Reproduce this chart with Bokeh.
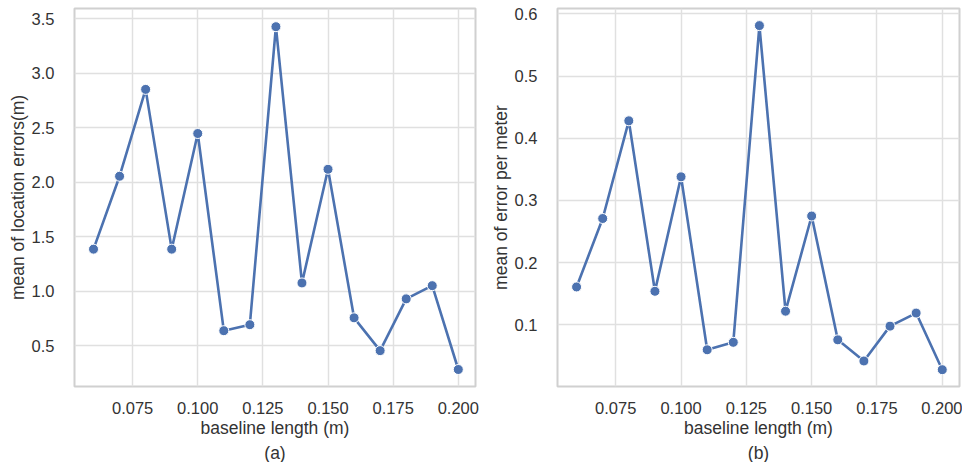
from bokeh.plotting import figure
from bokeh.layouts import row
from bokeh.models import FixedTicker, PrintfTickFormatter, Range1d, Title, ColumnDataSource
from bokeh.embed import file_html
from bokeh.resources import INLINE

baseline = [0.06, 0.07, 0.08, 0.09, 0.10, 0.11, 0.12, 0.13, 0.14, 0.15, 0.16, 0.17, 0.18, 0.19, 0.20]
loc_err = [1.386, 2.055, 2.852, 1.386, 2.447, 0.638, 0.693, 3.427, 1.076, 2.119, 0.756, 0.455, 0.930, 1.051, 0.282]
err_per_m = [0.161, 0.271, 0.428, 0.154, 0.338, 0.060, 0.072, 0.581, 0.122, 0.275, 0.076, 0.042, 0.098, 0.119, 0.028]

x_ticks = [0.075, 0.100, 0.125, 0.150, 0.175, 0.200]
y_ticks_a = [0.5, 1.0, 1.5, 2.0, 2.5, 3.0, 3.5]
y_ticks_b = [0.1, 0.2, 0.3, 0.4, 0.5, 0.6]

BLUE = "#4c72b0"
FONT = "Liberation Sans"
TXT = "#333333"


def make(ys, ylabel, yticks, yr, tag, width, bl, br):
    p = figure(width=width, height=462, output_backend="svg", toolbar_location=None,
               x_range=Range1d(0.0527, 0.2066), y_range=Range1d(*yr),
               min_border_left=bl, min_border_right=br, min_border_top=8, min_border_bottom=74)
    src = ColumnDataSource(dict(x=baseline, y=ys))
    p.line("x", "y", source=src, line_color=BLUE, line_width=2.6)
    p.scatter("x", "y", source=src, size=10, fill_color=BLUE, line_color="white", line_width=1)
    p.background_fill_color = "white"
    p.border_fill_color = "white"
    p.outline_line_color = "#d0d0d0"
    p.outline_line_width = 2
    for ax in (p.xaxis[0], p.yaxis[0]):
        ax.axis_line_color = None
        ax.major_tick_line_color = None
        ax.minor_tick_line_color = None
        ax.major_label_text_font = FONT
        ax.major_label_text_font_size = "16.5px"
        ax.major_label_text_color = TXT
        ax.axis_label_text_font = FONT
        ax.axis_label_text_font_size = "17.5px"
        ax.axis_label_text_font_style = "normal"
        ax.axis_label_text_color = TXT
        ax.axis_label_standoff = 1
    p.xaxis[0].major_label_standoff = 9
    p.yaxis[0].major_label_standoff = 14
    p.xaxis[0].ticker = FixedTicker(ticks=x_ticks)
    p.xaxis[0].formatter = PrintfTickFormatter(format="%.3f")
    p.yaxis[0].ticker = FixedTicker(ticks=yticks)
    p.yaxis[0].formatter = PrintfTickFormatter(format="%.1f")
    p.xaxis[0].axis_label = "baseline length (m)"
    p.yaxis[0].axis_label = ylabel
    p.xgrid.grid_line_color = "#e0e0e0"
    p.ygrid.grid_line_color = "#e0e0e0"
    p.xgrid.grid_line_width = 1.5
    p.ygrid.grid_line_width = 1.5
    t = Title(text=tag, align="center", text_font=FONT, text_font_size="17.5px",
              text_font_style="normal", text_color=TXT, offset=0, standoff=0)
    p.add_layout(t, "below")
    return p


p1 = make(loc_err, "mean of location errors(m)", y_ticks_a, (0.126, 3.594), "(a)", 480, 74, 5)
p2 = make(err_per_m, "mean of error per meter", y_ticks_b, (0.001, 0.6085), "(b)", 482, 77, 3)

layout = row(p1, p2)
open("out.html", "w").write(file_html(layout, INLINE))
